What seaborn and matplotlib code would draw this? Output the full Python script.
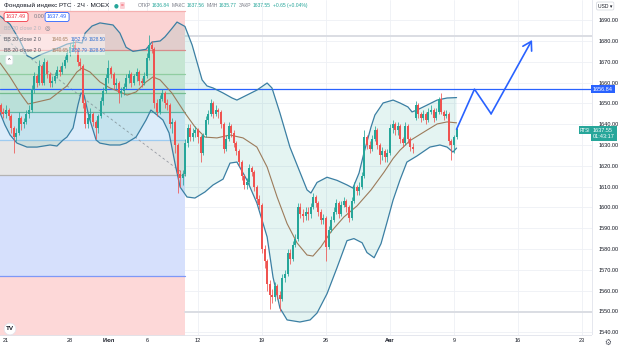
import numpy as np
import pandas as pd
import matplotlib
matplotlib.use("Agg")
import matplotlib.pyplot as plt
import seaborn as sns
from matplotlib.patches import Rectangle

# ---------------- data ----------------
bar_start = -2  # 2H bars, 0 = 21 Jun 10:00, 5 bars per trading day

opens = [1649, 1646, 1645, 1647, 1644, 1638, 1634, 1636, 1643, 1640,
         1641, 1645, 1647, 1657, 1663, 1660, 1668, 1660, 1670, 1664,
         1660, 1661, 1663, 1666, 1665, 1668, 1671, 1674, 1677, 1678,
         1676, 1670, 1668, 1650, 1640, 1643, 1645, 1641, 1638, 1644,
         1651, 1656, 1662, 1667, 1664, 1659, 1660, 1655, 1656, 1658,
         1662, 1664, 1660, 1663, 1665, 1661, 1660, 1663, 1672, 1678,
         1676, 1650, 1646, 1652, 1655, 1650, 1649, 1640, 1641, 1630,
         1616, 1614, 1616, 1631, 1638, 1634, 1636, 1637, 1634, 1626,
         1635, 1642, 1645, 1650, 1645, 1647, 1646, 1640, 1628, 1633,
         1639, 1636, 1631, 1627, 1622, 1615, 1611, 1612, 1619, 1617,
         1610, 1604, 1601, 1580, 1574, 1563, 1558, 1557, 1562, 1558,
         1556, 1566, 1568, 1578, 1575, 1582, 1585, 1600, 1597, 1596,
         1598, 1597, 1600, 1605, 1602, 1598, 1594, 1595, 1581, 1589,
         1594, 1598, 1602, 1597, 1601, 1603, 1600, 1595, 1603, 1610,
         1608, 1610, 1615, 1634, 1630, 1628, 1633, 1637, 1630, 1625,
         1627, 1624, 1626, 1638, 1640, 1637, 1639, 1633, 1631, 1639,
         1633, 1629, 1643, 1649, 1645, 1643, 1645, 1642, 1646, 1647,
         1643, 1646, 1652, 1646, 1644, 1645, 1632, 1630, 1634]
closes = [1646, 1645, 1647, 1644, 1638, 1634, 1636, 1643, 1640, 1641,
          1645, 1647, 1657, 1663, 1660, 1668, 1660, 1670, 1664, 1660,
          1661, 1663, 1666, 1665, 1668, 1671, 1674, 1677, 1678, 1676,
          1670, 1668, 1650, 1640, 1643, 1645, 1641, 1638, 1644, 1651,
          1656, 1662, 1667, 1664, 1659, 1660, 1655, 1656, 1658, 1662,
          1664, 1660, 1663, 1665, 1661, 1660, 1663, 1672, 1678, 1676,
          1650, 1646, 1652, 1655, 1650, 1649, 1640, 1641, 1630, 1616,
          1614, 1616, 1631, 1638, 1634, 1636, 1637, 1634, 1626, 1635,
          1642, 1645, 1650, 1645, 1647, 1646, 1640, 1628, 1633, 1639,
          1636, 1631, 1627, 1622, 1615, 1611, 1612, 1619, 1617, 1610,
          1604, 1601, 1580, 1574, 1563, 1558, 1557, 1562, 1558, 1556,
          1566, 1568, 1578, 1575, 1582, 1585, 1600, 1597, 1596, 1598,
          1597, 1600, 1605, 1602, 1598, 1594, 1595, 1581, 1589, 1594,
          1598, 1602, 1597, 1601, 1603, 1600, 1595, 1603, 1610, 1608,
          1610, 1615, 1634, 1630, 1628, 1633, 1637, 1630, 1625, 1627,
          1624, 1626, 1638, 1640, 1637, 1639, 1633, 1631, 1639, 1633,
          1629, 1628, 1649, 1645, 1643, 1645, 1642, 1646, 1647, 1643,
          1646, 1652, 1646, 1644, 1645, 1632, 1630, 1634, 1637.55]
highs = [1650, 1648, 1649, 1648, 1645, 1639, 1638, 1646, 1644, 1643,
         1647, 1649, 1659, 1665, 1664, 1671, 1669, 1672, 1671, 1665,
         1663, 1665, 1668, 1668, 1670, 1673, 1676, 1679, 1681, 1680,
         1677, 1672, 1669, 1652, 1646, 1648, 1646, 1642, 1645, 1653,
         1658, 1664, 1671, 1668, 1665, 1662, 1661, 1658, 1660, 1664,
         1666, 1665, 1664, 1667, 1666, 1662, 1665, 1674, 1683, 1680,
         1677, 1652, 1654, 1657, 1656, 1652, 1650, 1643, 1642, 1631,
         1618, 1618, 1633, 1640, 1640, 1638, 1639, 1638, 1635, 1636,
         1644, 1647, 1652, 1651, 1649, 1648, 1647, 1641, 1635, 1641,
         1640, 1637, 1632, 1628, 1623, 1616, 1614, 1621, 1620, 1618,
         1611, 1606, 1602, 1582, 1575, 1565, 1561, 1564, 1563, 1560,
         1568, 1570, 1580, 1580, 1584, 1587, 1602, 1602, 1599, 1600,
         1600, 1602, 1607, 1606, 1603, 1599, 1597, 1596, 1591, 1596,
         1600, 1604, 1603, 1603, 1605, 1604, 1601, 1605, 1612, 1611,
         1612, 1617, 1637, 1635, 1632, 1635, 1639, 1638, 1631, 1629,
         1628, 1628, 1640, 1642, 1641, 1641, 1640, 1634, 1641, 1640,
         1634, 1631, 1651, 1650, 1646, 1647, 1646, 1648, 1649, 1648,
         1648, 1653, 1655, 1647, 1647, 1646, 1633, 1635, 1638]
lows = [1645, 1643, 1643, 1642, 1636, 1626, 1632, 1635, 1637, 1638,
        1640, 1643, 1646, 1655, 1658, 1659, 1659, 1659, 1662, 1658,
        1658, 1660, 1662, 1663, 1664, 1667, 1670, 1673, 1675, 1674,
        1668, 1666, 1648, 1638, 1638, 1641, 1639, 1633, 1636, 1643,
        1649, 1655, 1660, 1662, 1657, 1657, 1650, 1653, 1654, 1657,
        1660, 1658, 1659, 1661, 1659, 1658, 1659, 1662, 1671, 1674,
        1648, 1644, 1645, 1651, 1648, 1647, 1638, 1636, 1626, 1607,
        1610, 1611, 1615, 1629, 1632, 1632, 1634, 1631, 1622, 1625,
        1634, 1640, 1644, 1643, 1644, 1643, 1638, 1626, 1627, 1632,
        1634, 1629, 1625, 1620, 1613, 1609, 1609, 1611, 1615, 1608,
        1602, 1599, 1578, 1571, 1560, 1551, 1554, 1555, 1556, 1550,
        1555, 1564, 1567, 1573, 1574, 1581, 1584, 1595, 1593, 1594,
        1594, 1595, 1599, 1600, 1596, 1592, 1592, 1574, 1580, 1588,
        1593, 1597, 1595, 1596, 1600, 1598, 1593, 1594, 1602, 1606,
        1606, 1609, 1614, 1628, 1626, 1627, 1632, 1628, 1621, 1623,
        1622, 1622, 1625, 1636, 1635, 1635, 1631, 1629, 1630, 1631,
        1627, 1626, 1642, 1643, 1641, 1642, 1640, 1641, 1645, 1641,
        1642, 1645, 1645, 1642, 1643, 1630, 1623, 1626, 1633]

# Bollinger Bands (20, close, 2)
upper_bars = [-2.3, 1.6, 5.5, 8.2, 10.5, 13.3, 17.2, 21.1, 23.8, 27.7,
              29.7, 30.9, 33.6, 36.7, 41.8, 44.5, 46.9, 49.6, 54.7, 57.0,
              60.2, 62.1, 64.8, 66.8, 69.9, 72.7, 74.6, 76.6, 78.5, 80.9,
              84.8, 88.3, 90.2, 94.1, 98.0, 102.0, 103.9, 107.0, 110.9, 114.8,
              117.6, 119.1, 121.5, 125.4, 129.3, 133.2, 135.5, 137.9, 139.8, 142.6,
              144.1, 147.3, 151.2, 153.9, 157.0, 158.6, 160.5, 164.5, 168.4, 172.3,
              176.0]
upper_vals = [1692.0, 1688.0, 1680.0, 1673.0, 1671.5, 1673.3, 1675.2, 1677.0, 1678.5, 1679.5,
              1679.0, 1683.8, 1687.2, 1688.7, 1687.7, 1683.8, 1677.0, 1675.0, 1676.0, 1679.5,
              1680.0, 1682.0, 1686.0, 1689.1, 1687.0, 1678.1, 1669.9, 1661.3, 1658.4, 1657.4,
              1655.0, 1652.6, 1651.6, 1654.0, 1656.4, 1659.8, 1657.4, 1645.4, 1629.0, 1617.0,
              1608.4, 1606.9, 1612.0, 1614.5, 1613.0, 1610.8, 1609.3, 1616.5, 1626.1, 1638.7,
              1644.4, 1650.2, 1651.6, 1650.2, 1648.3, 1645.9, 1646.8, 1649.2, 1651.6, 1652.6,
              1652.79]
middle_bars = [-2.3, 1.6, 5.5, 8.6, 10.5, 17.2, 23.8, 27.7, 29.7, 32.8,
               36.7, 40.6, 44.5, 47.3, 50.8, 54.7, 57.4, 60.2, 64.8, 69.9,
               73.8, 77.7, 82.4, 87.5, 92.6, 98.0, 102.0, 105.9, 109.8, 113.7,
               117.6, 119.9, 123.0, 126.9, 132.0, 137.1, 142.6, 147.7, 151.2, 153.9,
               157.8, 164.5, 168.4, 172.3, 176.0]
middle_vals = [1669.4, 1662.7, 1655.0, 1649.7, 1650.2, 1652.1, 1658.4, 1665.1, 1667.0, 1665.1,
               1660.3, 1657.4, 1655.5, 1654.0, 1655.5, 1660.3, 1662.7, 1661.3, 1655.0, 1645.4,
               1638.7, 1633.8, 1633.4, 1634.8, 1633.4, 1629.0, 1619.4, 1605.0, 1592.2, 1582.9,
               1577.1, 1576.6, 1581.0, 1588.2, 1595.4, 1600.7, 1608.4, 1617.0, 1623.5, 1627.5,
               1632.1, 1637.2, 1640.1, 1641.1, 1640.65]
lower_bars = [-2.3, -0.4, 1.6, 4.3, 8.2, 12.1, 17.2, 19.9, 22.3, 23.8,
              26.2, 28.1, 29.3, 30.5, 32.4, 35.2, 36.7, 40.6, 44.5, 46.9,
              50.8, 54.7, 56.6, 59.0, 61.3, 63.7, 66.0, 68.0, 70.7, 73.8,
              77.7, 80.9, 84.8, 87.5, 90.2, 94.1, 98.0, 102.0, 104.3, 107.0,
              109.8, 114.8, 118.8, 121.5, 125.4, 129.3, 133.2, 135.9, 139.1, 141.0,
              143.8, 146.5, 148.8, 151.2, 153.9, 156.6, 160.5, 165.6, 169.5, 172.3,
              174.6, 176.0]
lower_vals = [1645.4, 1639.6, 1634.8, 1630.9, 1629.0, 1629.0, 1630.0, 1629.5, 1632.4, 1633.8,
              1638.2, 1649.2, 1655.0, 1654.0, 1643.5, 1632.4, 1630.9, 1630.0, 1630.0, 1630.9,
              1633.8, 1642.0, 1646.8, 1644.4, 1642.0, 1635.8, 1621.3, 1609.8, 1605.0, 1604.5,
              1607.4, 1610.8, 1613.6, 1621.3, 1621.8, 1613.2, 1602.1, 1585.8, 1566.5, 1551.6,
              1545.9, 1544.9, 1545.9, 1549.2, 1558.5, 1571.0, 1584.0, 1585.0, 1583.0, 1578.3,
              1575.8, 1582.6, 1592.7, 1603.5, 1613.2, 1621.8, 1624.7, 1629.0, 1630.0, 1629.0,
              1626.6, 1628.5]

# Fibonacci retracement drawing
fib_high = 1694.5
fib_low = 1615.6
fib_ratios = [0, 0.236, 0.382, 0.5, 0.618, 0.786, 1, 1.618, 2.618]
fib_start_bar = -15
fib_end_bar = 70

hline_price = 1656.84
range_prices = [1682.6, 1549.7]
range_start_bar = 70
proj_bars = [176, 183, 189.5, 205.5]
proj_vals = [1637.55, 1656.84, 1645.0, 1680.5]

tick_bars = [0, 25, 40, 55, 75, 100, 125, 150, 175, 200, 225]
tick_labels = ['21', '28', 'Июл', '6', '12', '19', '26', 'Авг', '9', '16', '23']
price_ticks = list(range(1540, 1700, 10))

ohlc_labels = ["ОТКР", "МАКС", "МИН", "ЗАКР"]
ohlc_values = ["1636.84", "1637.56", "1635.77", "1637.55"]
change_text = "+0.65 (+0.04%)"
bb_values = ["1640.65", "1652.79", "1628.50"]

# ---------------- style ----------------
sns.set_theme(style="white")
plt.rcParams['font.family'] = ['Liberation Sans', 'DejaVu Sans']

W, H = 624, 348
fig = plt.figure(figsize=(W / 100, H / 100), dpi=100)
fig.patch.set_facecolor('white')
ax = fig.add_axes([0, 13 / H, 592 / W, 335 / H])
ax.set_xlim(-6 / 2.56, 586 / 2.56)
ax.set_ylim(1538.65, 1699.71)
ax.set_facecolor('white')

GREEN = '#26a69a'
RED = '#ef5350'
BAND = '#3b7fa3'
BASIS = '#9c7b5b'

# fib zones
zone_colors = ['#fbd3d3', '#dcefdc', '#d8eddb', '#cfe9e2', '#dcecfa', '#e6e6e6', '#d6e0fc', '#fdd8d8']
line_colors = ['#f4b0b0', '#f08a8a', '#9fd3a3', '#7fc08f', '#63b8a8', '#9ecbf0', '#b3b3b3', '#7e98f7', '#f08a8a']
diff = fib_high - fib_low
levels = [fib_high - r * diff for r in fib_ratios]
for i in range(len(levels) - 1):
    ax.fill_between([fib_start_bar, fib_end_bar], levels[i + 1], levels[i],
                    color=zone_colors[i], lw=0, zorder=1)
for lv, c in zip(levels, line_colors):
    ax.plot([fib_start_bar, fib_end_bar], [lv, lv], color=c, lw=0.9, zorder=1.2)
ax.plot([fib_start_bar, fib_end_bar], [fib_high, fib_low], color='#9598a1',
        lw=0.6, ls=(0, (3, 3)), zorder=1.3)

# grid
ax.set_axisbelow(True)
ax.grid(True, color='#eef0f5', lw=0.6)

# BB fill + lines
poly_x = list(upper_bars) + list(lower_bars[::-1])
poly_y = list(upper_vals) + list(lower_vals[::-1])
ax.fill(poly_x, poly_y, color=GREEN, alpha=0.12, lw=0, zorder=2)
sns.lineplot(x=upper_bars, y=upper_vals, ax=ax, color=BAND, lw=0.9, estimator=None, sort=False, zorder=3)
sns.lineplot(x=lower_bars, y=lower_vals, ax=ax, color=BAND, lw=0.9, estimator=None, sort=False, zorder=3)
sns.lineplot(x=middle_bars, y=middle_vals, ax=ax, color=BASIS, lw=0.8, estimator=None, sort=False, zorder=3)

# horizontal lines
ax.axhline(hline_price, color='#2962ff', lw=0.9, zorder=2.5)
for rp in range_prices:
    ax.plot([range_start_bar, 240], [rp, rp], color='#dadde3', lw=1.4, zorder=1.5)

# candles
df = pd.DataFrame({'o': opens, 'h': highs, 'l': lows, 'c': closes})
df['x'] = np.arange(bar_start, bar_start + len(df))
cols = np.where(df['c'] >= df['o'], GREEN, RED)
ax.vlines(df['x'], df['l'], df['h'], colors=cols, lw=0.55, zorder=3.9)
body = (df['c'] - df['o']).to_numpy(dtype=float)
body = np.where(np.abs(body) < 0.3, 0.3, body)
ax.bar(df['x'], body, bottom=df['o'], width=0.78, color=cols, lw=0, zorder=4)

# projection path
sns.lineplot(x=proj_bars[:3], y=proj_vals[:3], ax=ax, color='#2962ff', lw=1.2,
             estimator=None, sort=False, zorder=5)
ax.annotate('', xy=(proj_bars[3], proj_vals[3]), xytext=(proj_bars[2], proj_vals[2]),
            arrowprops=dict(arrowstyle='->,head_length=0.5,head_width=0.3', color='#2962ff',
                            lw=1.2, shrinkA=0, shrinkB=0), zorder=5)

# axes
ax.set_xticks(tick_bars)
ax.set_xticklabels(tick_labels)
for t in ax.get_xticklabels():
    if t.get_text() in ('Июл', 'Авг'):
        t.set_fontweight('bold')
ax.set_yticks(price_ticks)
ax.set_yticklabels([f"{v:.2f}" for v in price_ticks])
ax.yaxis.tick_right()
ax.tick_params(axis='y', length=0, pad=4.5, labelsize=4, colors='#131722')
ax.tick_params(axis='x', length=0, pad=2.5, labelsize=4, colors='#131722')
for s in ['top', 'left']:
    ax.spines[s].set_visible(False)
for s in ['bottom', 'right']:
    ax.spines[s].set_color('#e0e3eb')
    ax.spines[s].set_linewidth(0.6)
ax.set_xlabel('')
ax.set_ylabel('')

renderer = fig.canvas.get_renderer()


def T(x, y, s, **kw):
    kw.setdefault('va', 'center')
    return fig.text(x / W, 1 - y / H, s, **kw)


def chain(x0, y, pieces, fontsize):
    """place text pieces one after another: (text, colour, gap after in px)"""
    x = x0
    for s, c, gap in pieces:
        t = T(x, y, s, fontsize=fontsize, color=c)
        bb = t.get_window_extent(renderer)
        x = bb.x1 + gap
    return x


# cover cut-off price label area at bottom right
fig.patches.append(Rectangle((592 / W, 0), 32 / W, 13 / H, transform=fig.transFigure,
                             fc='white', ec='none', zorder=1))

# title row
T(4, 5.5, "Фондовый индекс РТС · 2Ч · MOEX", fontsize=4.6, color='#131722')
T(114, 5.5, "●", fontsize=4, color=GREEN, family='DejaVu Sans')
T(121, 5.5, "=", fontsize=3.5, color='#f23645',
  bbox=dict(boxstyle='round,pad=0.2', fc='#fbd0d5', ec='none'))
pieces = []
for lab, val in zip(ohlc_labels, ohlc_values):
    pieces.append((lab, '#787b86', 0.6))
    pieces.append((val, GREEN, 2.5))
pieces.append((change_text, GREEN, 0))
chain(138, 5.5, pieces, 3.6)

# legend
T(6, 17, "1637.49", fontsize=4, color='#f23645',
  bbox=dict(boxstyle='round,pad=0.35', fc='white', ec='#f23645', lw=0.6))
T(34, 17, "0.00", fontsize=4, color='#787b86')
T(47, 17, "1637.49", fontsize=4, color='#2962ff',
  bbox=dict(boxstyle='round,pad=0.35', fc='white', ec='#2962ff', lw=0.6))
T(4, 29, "BB 20 close 2 0", fontsize=3.8, color='#b2b5be')
T(45, 29, "◎", fontsize=4.5, color='#787b86', family='DejaVu Sans')
fig.patches.append(Rectangle((0, 1 - 55 / H), 105 / W, 21 / H, transform=fig.transFigure,
                             fc='white', alpha=0.45, ec='none', zorder=1))
for yy in (39.5, 50):
    T(4, yy, "BB 20 close 2 0", fontsize=3.8, color='#50535e')
    chain(52, yy, [(bb_values[0], '#a07a58', 1.5), (bb_values[1], '#2f6fd1', 1.5),
                   (bb_values[2], '#2f6fd1', 0)], 3.3)
T(8, 60, "^", fontsize=4, color='#131722',
  bbox=dict(boxstyle='round,pad=0.4', fc='white', ec='#e0e3eb', lw=0.5))

# TradingView logo
T(10, 329, "TV", fontsize=4.5, color='#131722', ha='center', fontweight='bold',
  bbox=dict(boxstyle='circle,pad=0.3', fc='white', ec='#e0e3eb', lw=0.5))

# price scale labels
T(598, 6, "USD ▾", fontsize=3.6, color='#131722',
  bbox=dict(boxstyle='round,pad=0.3', fc='white', ec='#d1d4dc', lw=0.5))
T(593, 89.3, "1656.84", fontsize=4, color='white',
  bbox=dict(boxstyle='square,pad=0.3', fc='#2962ff', ec='none'))
T(593, 133.5, "1637.55\n01:43:17", fontsize=4, color='white', linespacing=1.25,
  bbox=dict(boxstyle='square,pad=0.3', fc=GREEN, ec='none'))
T(580, 130, "RTSI", fontsize=3.4, color='white',
  bbox=dict(boxstyle='square,pad=0.3', fc=GREEN, ec='none'))
T(608, 342, "⚙", fontsize=5.5, color='#50535e', ha='center', family='DejaVu Sans')

fig.savefig("out.png", dpi=100)
